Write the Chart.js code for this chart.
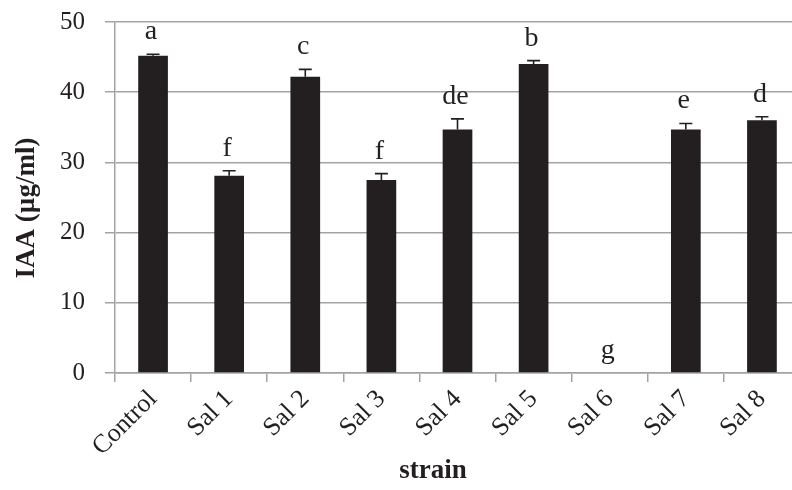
<!DOCTYPE html>
<html>
<head>
<meta charset="utf-8">
<script src="https://cdn.jsdelivr.net/npm/chart.js@4.4.1/dist/chart.umd.min.js"></script>
<style>
html,body{margin:0;padding:0;background:#fff;overflow:hidden;width:792px;height:490px;}
#wrap{position:absolute;left:0;top:0;width:800px;height:490px;}
</style>
</head>
<body>
<div id="wrap"><canvas id="c" width="800" height="490"></canvas></div>
<script>
const categories = ['Control','Sal 1','Sal 2','Sal 3','Sal 4','Sal 5','Sal 6','Sal 7','Sal 8'];
const iaaValues = [45.2, 28.1, 42.2, 27.5, 34.7, 44.0, 0, 34.7, 36.0];
const iaaErrors = [0.2, 0.7, 1.05, 0.9, 1.5, 0.5, 0, 0.85, 0.5];
const letters = ['a','f','c','f','de','b','g','e','d'];
const yTickValues = [0, 10, 20, 30, 40, 50];
const yTitle = 'IAA (µg/ml)';
const xTitle = 'strain';

const INK = '#231f20';
const GRID = '#a3a3a3';
const SERIF = '"Liberation Serif", "Times New Roman", serif';

const overlay = {
  id: 'overlay',
  afterDatasetsDraw(chart) {
    const ctx = chart.ctx;
    const ys = chart.scales.y;
    const meta = chart.getDatasetMeta(0);
    ctx.save();
    // error bars (plus only)
    ctx.strokeStyle = INK;
    ctx.lineWidth = 1.6;
    meta.data.forEach((bar, i) => {
      const v = iaaValues[i], e = iaaErrors[i];
      if (e <= 0) return;
      const y0 = ys.getPixelForValue(v);
      const y1 = ys.getPixelForValue(v + e);
      const x = bar.x;
      ctx.beginPath();
      ctx.moveTo(x, y0); ctx.lineTo(x, y1);
      ctx.moveTo(x - 6.5, y1); ctx.lineTo(x + 6.5, y1);
      ctx.stroke();
    });
    // significance letters
    ctx.fillStyle = INK;
    ctx.font = '28px ' + SERIF;
    ctx.textAlign = 'center';
    ctx.textBaseline = 'alphabetic';
    meta.data.forEach((bar, i) => {
      const top = ys.getPixelForValue(iaaValues[i] + iaaErrors[i]);
      ctx.fillText(letters[i], bar.x - 2, top - 15);
    });
    // axis titles
    ctx.font = 'bold 27px ' + SERIF;
    ctx.textBaseline = 'middle';
    ctx.save();
    ctx.translate(27, 208);
    ctx.rotate(-Math.PI / 2);
    ctx.fillText(yTitle, 0, 0);
    ctx.restore();
    ctx.fillText(xTitle, 433, 471);
    ctx.restore();
  }
};

new Chart(document.getElementById('c'), {
  type: 'bar',
  data: {
    labels: categories,
    datasets: [{
      data: iaaValues,
      backgroundColor: INK,
      borderWidth: 0,
      barPercentage: 0.39,
      categoryPercentage: 1.0
    }]
  },
  options: {
    responsive: false,
    animation: false,
    events: [],
    layout: { padding: { top: 22, right: 0, left: 0, bottom: 0 } },
    plugins: { legend: { display: false }, tooltip: { enabled: false } },
    scales: {
      x: {
        offset: true,
        grid: { offset: true, drawOnChartArea: false, drawTicks: true, tickLength: 9, color: GRID, lineWidth: 1.5 },
        border: { color: GRID, width: 1.5 },
        ticks: { color: INK, font: { family: SERIF, size: 26 }, maxRotation: 45, minRotation: 45, padding: 2, autoSkip: false },
        afterFit(scale) {
          scale.height = 117;
          scale.paddingLeft = 0; scale.paddingRight = 0; scale.paddingTop = 0; scale.paddingBottom = 0;
        }
      },
      y: {
        min: 0, max: 50,
        afterBuildTicks(scale) { scale.ticks = yTickValues.map(v => ({ value: v })); },
        grid: { color: GRID, lineWidth: 1.5, tickLength: 10, drawTicks: true },
        border: { color: GRID, width: 1.5 },
        ticks: { color: INK, font: { family: SERIF, size: 25 }, padding: 20 },
        afterFit(scale) {
          scale.width = 115;
          scale.paddingLeft = 0; scale.paddingRight = 0; scale.paddingTop = 0; scale.paddingBottom = 0;
        }
      }
    }
  },
  plugins: [overlay]
});
</script>
</body>
</html>
